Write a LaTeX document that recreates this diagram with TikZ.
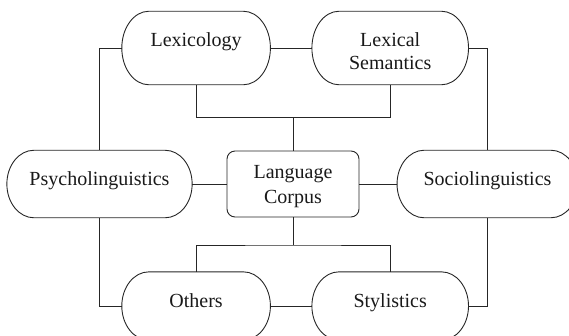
\documentclass[tikz,border=0pt]{standalone}
\usepackage{fontspec}
\setmainfont{Liberation Serif}
\usetikzlibrary{calc}
\newcommand\pillr{27pt}
\begin{document}
\begin{tikzpicture}[x=1pt,y=-1pt, line width=0.9pt,
  label text/.style={font=\fontsize{20}{23}\selectfont, text=black!90, align=center},
  pill/.style={rectangle, inner sep=0pt, label text, text height=14pt},
  corpusbox/.style={rectangle, inner sep=0pt, draw=black!85, rounded corners=8pt, label text,
    font=\fontsize{20}{25.5}\selectfont},
  outline/.style={draw=black!85},
  link/.style={draw=black!85}]
\useasboundingbox (0,0) rectangle (569,335);
\clip (0,0) rectangle (569,335);

% topic nodes (outlines are drawn below)
\node[pill, minimum width=147.7pt, minimum height=72.6pt, text depth=17pt] (lex) at (196.1,48) {Lexicology};
\node[pill, minimum width=155.7pt, minimum height=72.6pt, text height=47pt, text depth=4pt] (sem) at (390.2,48) {Lexical\\Semantics};
\node[pill, minimum width=184.4pt, minimum height=66.6pt, text depth=10.6pt] (psy) at (99.5,184) {Psycholinguistics};
\node[pill, minimum width=180pt, minimum height=66.6pt, text depth=12pt] (soc) at (487.5,184) {Sociolinguistics};
\node[pill, minimum width=147.7pt, minimum height=67.4pt, text depth=11.4pt] (oth) at (196.1,306) {Others};
\node[pill, minimum width=155.7pt, minimum height=67.4pt, text depth=11.4pt] (sty) at (390.2,306) {Stylistics};
\node[corpusbox, minimum width=132pt, minimum height=66pt, text height=43pt, text depth=4pt] (cor) at (293,184) {Language\\Corpus};

% pill outlines with elliptical ends
\foreach \n in {lex,sem,psy,soc,oth,sty}{
  \draw[outline] ([xshift=\pillr]\n.north west) -- ([xshift=-\pillr]\n.north east)
    .. controls ([xshift=-0.448*\pillr]\n.north east) and ($(\n.east)!0.552!(\n.north east)$) .. (\n.east)
    .. controls ($(\n.east)!0.552!(\n.south east)$) and ([xshift=-0.448*\pillr]\n.south east) .. ([xshift=-\pillr]\n.south east)
    -- ([xshift=\pillr]\n.south west)
    .. controls ([xshift=0.448*\pillr]\n.south west) and ($(\n.west)!0.552!(\n.south west)$) .. (\n.west)
    .. controls ($(\n.west)!0.552!(\n.north west)$) and ([xshift=0.448*\pillr]\n.north west) .. cycle;
}

% junctions of the branching connectors
\coordinate (jt) at (293,117.3);
\coordinate (jb) at (293,245);

% connectors
\draw[link] (lex.east) -- (sem.west);
\draw[link] (lex.south) |- (jt) -| (sem.south);
\draw[link] (jt) -- (cor.north);
\draw[link] (lex.west) -| (psy.north);
\draw[link] (sem.east) -| (soc.north);
\draw[link] (psy.east) -- (cor.west);
\draw[link] (cor.east) -- (soc.west);
\draw[link] (psy.south) |- (oth.west);
\draw[link] (soc.south) |- (sty.east);
\draw[link] (cor.south) -- (jb);
\draw[link] (oth.north) |- (jb) -| (sty.north);
\draw[link] (oth.east) -- (sty.west);
\end{tikzpicture}
\end{document}
